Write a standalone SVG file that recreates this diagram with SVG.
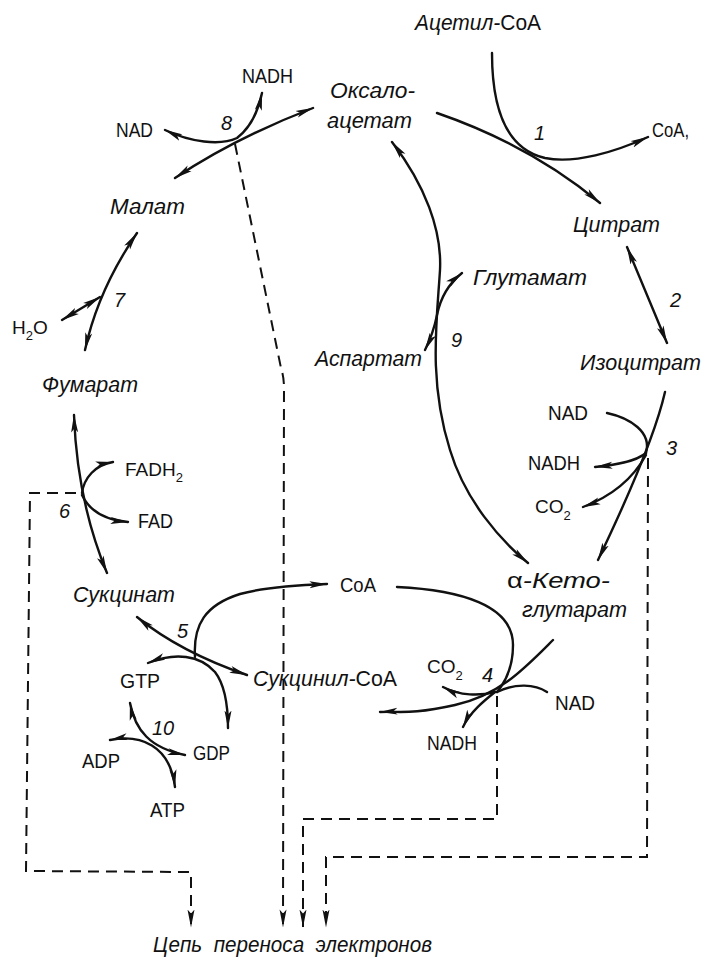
<svg xmlns="http://www.w3.org/2000/svg" width="704" height="958" viewBox="0 0 704 958">
<style>
text{font-family:"Liberation Sans","Arial",sans-serif;fill:#111}
.n{font-style:italic;font-size:22px}
.u{font-style:normal}
.c{font-size:21px}
.c2{font-size:19px}
.k{font-style:italic;font-size:20px}
.s{fill:none;stroke:#111;stroke-width:2.4;stroke-linecap:round}
.d{fill:none;stroke:#111;stroke-width:2;stroke-dasharray:11 7}
</style>
<defs>
<marker id="a" viewBox="0 0 18 8" refX="17.5" refY="4" markerWidth="18" markerHeight="8" markerUnits="userSpaceOnUse" orient="auto-start-reverse">
<path d="M0,0.5 L18,4 L0,7.5 L4,4 Z" fill="#111" stroke="none"/>
</marker>
</defs>
<rect width="704" height="958" fill="#fff"/>

<g id="connectors">
<!-- reaction 1 -->
<path class="s" d="M437,113 Q530,145 600,203" marker-end="url(#a)"/>
<path class="s" d="M492,53 C492,115 510,150 545,158 C575,164 615,152 648,137" marker-end="url(#a)"/>
<!-- reaction 2 -->
<path class="s" d="M627,247 L667,343" marker-start="url(#a)" marker-end="url(#a)"/>
<!-- reaction 3 -->
<path class="s" d="M665,392 Q653,445 598,560" marker-end="url(#a)"/>
<path class="s" d="M607,413 C630,418 652,432 646,453"/>
<path class="s" d="M646,453 C635,462 615,465 595,467" marker-end="url(#a)"/>
<path class="s" d="M646,455 C635,475 615,495 583,507" marker-end="url(#a)"/>
<!-- reaction 4 -->
<path class="s" d="M553,640 C525,668 500,695 455,705 S400,711 380,712" marker-end="url(#a)"/>
<path class="s" d="M397,587 C460,590 513,605 513,645 C513,665 507,680 497,692"/>
<path class="s" d="M547,692 C535,684 515,683 497,692"/>
<path class="s" d="M495,692 C480,696 460,696 443,687" marker-end="url(#a)"/>
<path class="s" d="M495,692 C485,700 470,712 463,727" marker-end="url(#a)"/>
<!-- reaction 5 -->
<path class="s" d="M137,617 Q180,652 247,675" marker-start="url(#a)" marker-end="url(#a)"/>
<path class="s" d="M195,657 C193,625 205,605 240,594 C265,587 300,585 327,584" marker-end="url(#a)"/>
<path class="s" d="M148,663 C175,652 200,655 215,672 C225,685 228,705 228,728" marker-start="url(#a)" marker-end="url(#a)"/>
<!-- reaction 10 -->
<path class="s" d="M130,703 C135,730 150,748 185,755" marker-start="url(#a)" marker-end="url(#a)"/>
<path class="s" d="M110,740 C140,734 170,745 175,787" marker-start="url(#a)" marker-end="url(#a)"/>
<!-- reaction 6 -->
<path class="s" d="M74,415 C76,470 85,520 107,573" marker-start="url(#a)" marker-end="url(#a)"/>
<path class="s" d="M82,493 C84,478 95,465 113,462" marker-end="url(#a)"/>
<path class="s" d="M82,495 C90,512 105,520 128,522" marker-end="url(#a)"/>
<!-- reaction 7 -->
<path class="s" d="M137,233 Q98,290 85,350" marker-start="url(#a)" marker-end="url(#a)"/>
<path class="s" d="M62,320 L100,297" marker-start="url(#a)" marker-end="url(#a)"/>
<!-- reaction 8 -->
<path class="s" d="M175,178 Q235,138 313,108" marker-start="url(#a)" marker-end="url(#a)"/>
<path class="s" d="M165,130 C190,142 220,146 237,138 C250,128 258,112 262,93" marker-start="url(#a)" marker-end="url(#a)"/>
<!-- reaction 9 -->
<path class="s" d="M392,142 C425,185 442,230 440,270 C437,320 428,380 450,450 C465,500 500,540 528,563" marker-start="url(#a)" marker-end="url(#a)"/>
<path class="s" d="M462,273 C447,285 440,300 437,315 C434,330 430,340 425,350" marker-start="url(#a)" marker-end="url(#a)"/>
<!-- electron transport (dashed) -->
<path class="d" d="M235,144 L281,368 Q284,377 284,388 L283,927" marker-end="url(#a)"/>
<path class="d" d="M76,493 L30,493 L26,871 L191,872 L191,927" marker-end="url(#a)"/>
<path class="d" d="M497,696 L497,819 L303,819 L303,927" marker-end="url(#a)"/>
<path class="d" d="M648,458 L647,857 L326,857 L326,927" marker-end="url(#a)"/>
</g>

<g id="acetyl-coa"><text class="n" x="415" y="30" textLength="126" lengthAdjust="spacingAndGlyphs">Ацетил-<tspan class="u">CoA</tspan></text></g>
<g id="coa-1"><text class="c" x="652" y="137" textLength="37" lengthAdjust="spacingAndGlyphs">CoA,</text></g>
<g id="oxaloacetate"><text class="n" x="330" y="98" textLength="85" lengthAdjust="spacingAndGlyphs">Оксало-</text><text class="n" x="327" y="128" textLength="85" lengthAdjust="spacingAndGlyphs">ацетат</text></g>
<g id="nadh-8"><text class="c" x="242" y="83" textLength="51" lengthAdjust="spacingAndGlyphs">NADH</text></g>
<g id="nad-8"><text class="c" x="116" y="137" textLength="37" lengthAdjust="spacingAndGlyphs">NAD</text></g>
<g id="malate"><text class="n" x="110" y="214" textLength="75" lengthAdjust="spacingAndGlyphs">Малат</text></g>
<g id="citrate"><text class="n" x="573" y="232" textLength="87" lengthAdjust="spacingAndGlyphs">Цитрат</text></g>
<g id="glutamate"><text class="n" x="473" y="285" textLength="114" lengthAdjust="spacingAndGlyphs">Глутамат</text></g>
<g id="aspartate"><text class="n" x="315" y="366" textLength="107" lengthAdjust="spacingAndGlyphs">Аспартат</text></g>
<g id="isocitrate"><text class="n" x="580" y="370" textLength="121" lengthAdjust="spacingAndGlyphs">Изоцитрат</text></g>
<g id="h2o"><text class="c2" x="12" y="334">H<tspan dy="6" font-size="13">2</tspan><tspan dy="-6">O</tspan></text></g>
<g id="fumarate"><text class="n" x="42" y="392" textLength="96" lengthAdjust="spacingAndGlyphs">Фумарат</text></g>
<g id="fadh2"><text class="c2" x="125" y="476">FADH<tspan dy="6" font-size="13">2</tspan></text></g>
<g id="fad"><text class="c" x="138" y="528" textLength="35" lengthAdjust="spacingAndGlyphs">FAD</text></g>
<g id="nad-3"><text class="c" x="548" y="420" textLength="40" lengthAdjust="spacingAndGlyphs">NAD</text></g>
<g id="nadh-3"><text class="c" x="528" y="470" textLength="52" lengthAdjust="spacingAndGlyphs">NADH</text></g>
<g id="co2-3"><text class="c2" x="535" y="513">CO<tspan dy="7" font-size="13">2</tspan></text></g>
<g id="succinate"><text class="n" x="73" y="602" textLength="102" lengthAdjust="spacingAndGlyphs">Сукцинат</text></g>
<g id="coa-5"><text class="c" x="340" y="592" textLength="36" lengthAdjust="spacingAndGlyphs">CoA</text></g>
<g id="alpha-ketoglutarate"><text class="n" x="507" y="588" textLength="103" lengthAdjust="spacingAndGlyphs"><tspan class="u">α</tspan>-Кето-</text><text class="n" x="522" y="617" textLength="105" lengthAdjust="spacingAndGlyphs">глутарат</text></g>
<g id="succinyl-coa"><text class="n" x="253" y="686" textLength="144" lengthAdjust="spacingAndGlyphs">Сукцинил-<tspan class="u">CoA</tspan></text></g>
<g id="co2-4"><text class="c2" x="427" y="673">CO<tspan dy="7" font-size="13">2</tspan></text></g>
<g id="nad-4"><text class="c" x="555" y="710" textLength="40" lengthAdjust="spacingAndGlyphs">NAD</text></g>
<g id="nadh-4"><text class="c" x="427" y="750" textLength="50" lengthAdjust="spacingAndGlyphs">NADH</text></g>
<g id="gtp"><text class="c" x="120" y="688" textLength="40" lengthAdjust="spacingAndGlyphs">GTP</text></g>
<g id="gdp"><text class="c" x="193" y="760" textLength="37" lengthAdjust="spacingAndGlyphs">GDP</text></g>
<g id="adp"><text class="c" x="82" y="768" textLength="38" lengthAdjust="spacingAndGlyphs">ADP</text></g>
<g id="atp"><text class="c" x="150" y="817" textLength="35" lengthAdjust="spacingAndGlyphs">ATP</text></g>
<g id="etc"><text class="n" x="153" y="952" textLength="279" lengthAdjust="spacingAndGlyphs" xml:space="preserve">Цепь  переноса  электронов</text></g>

<g id="enzyme-numbers">
<text class="k" x="534" y="140">1</text>
<text class="k" x="670" y="307">2</text>
<text class="k" x="666" y="455">3</text>
<text class="k" x="482" y="682">4</text>
<text class="k" x="177" y="638">5</text>
<text class="k" x="59" y="518">6</text>
<text class="k" x="114" y="307">7</text>
<text class="k" x="221" y="130">8</text>
<text class="k" x="451" y="347">9</text>
<text class="k" x="152" y="735">10</text>
</g>
</svg>
